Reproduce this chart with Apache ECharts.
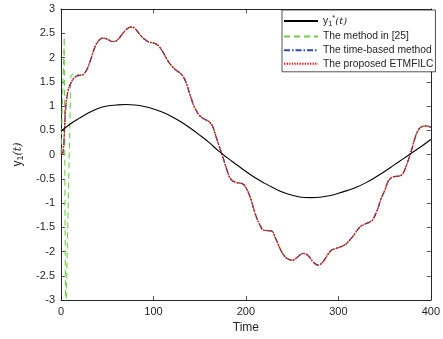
<!DOCTYPE html>
<html>
<head>
<meta charset="utf-8">
<script src="https://cdn.jsdelivr.net/npm/echarts@6/dist/echarts.min.js"></script>
<style>html,body{margin:0;padding:0;background:#fff}#c{width:443px;height:339px}</style>
</head>
<body>
<div id="c"></div>
<script>
// ---- data ----
var tRef = [0,10,20,30,40,50,60,70,80,90,100,110,120,130,140,150,160,170,180,190,200,210,220,230,240,250,260,270,280,290,300,310,320,330,340,350,360,370,380,390,400];
var yRef = [0.48,0.63,0.75,0.86,0.95,1.00,1.02,1.03,1.02,0.99,0.94,0.87,0.78,0.67,0.54,0.40,0.25,0.08,-0.07,-0.21,-0.35,-0.48,-0.59,-0.69,-0.78,-0.84,-0.88,-0.89,-0.88,-0.85,-0.80,-0.74,-0.67,-0.58,-0.47,-0.35,-0.22,-0.09,0.04,0.17,0.31];

var tTrack = [0,2,4,5,7,9,12,16,20,24,28,32,36,40,45,50,55,58,62,67,72,76,80,85,90,95,100,105,110,115,120,125,130,135,140,145,150,155,160,164,168,172,175,180,184,190,196,200,205,210,215,219,224,228,232,236,240,245,250,255,260,263,268,273,278,283,288,292,297,303,308,313,318,323,328,333,337,342,346,350,354,358,363,367,371,375,379,383,387,391,395,400];
var yProposed = [0.00,0.02,0.60,0.95,1.25,1.40,1.52,1.61,1.63,1.65,1.75,1.95,2.18,2.33,2.40,2.38,2.33,2.33,2.38,2.50,2.60,2.63,2.60,2.48,2.38,2.32,2.30,2.25,2.12,1.95,1.82,1.73,1.66,1.50,1.20,0.95,0.80,0.73,0.68,0.58,0.35,0.12,-0.05,-0.35,-0.52,-0.58,-0.60,-0.68,-0.90,-1.22,-1.45,-1.56,-1.57,-1.58,-1.72,-1.90,-2.05,-2.15,-2.18,-2.13,-2.05,-2.04,-2.10,-2.22,-2.28,-2.22,-2.08,-1.98,-1.94,-1.90,-1.85,-1.75,-1.63,-1.50,-1.44,-1.40,-1.35,-1.15,-0.92,-0.75,-0.55,-0.47,-0.45,-0.44,-0.35,-0.15,0.08,0.35,0.52,0.58,0.59,0.56];
var yTimeBased = [0.00,0.02,0.60,0.95,1.25,1.40,1.52,1.61,1.63,1.65,1.75,1.95,2.18,2.33,2.40,2.38,2.33,2.33,2.38,2.50,2.60,2.63,2.60,2.48,2.38,2.32,2.30,2.25,2.12,1.95,1.82,1.73,1.66,1.50,1.20,0.95,0.80,0.73,0.68,0.58,0.35,0.12,-0.05,-0.35,-0.52,-0.58,-0.60,-0.68,-0.90,-1.22,-1.45,-1.56,-1.57,-1.58,-1.72,-1.90,-2.05,-2.15,-2.18,-2.13,-2.05,-2.04,-2.10,-2.22,-2.28,-2.22,-2.08,-1.98,-1.94,-1.90,-1.85,-1.75,-1.63,-1.50,-1.44,-1.40,-1.35,-1.15,-0.92,-0.75,-0.55,-0.47,-0.45,-0.44,-0.35,-0.15,0.08,0.35,0.52,0.58,0.59,0.56];

// early transient of the method in [25]; afterwards it coincides with the tracking curve
var tMethod25Early = [0,3.5,5,6.3,10.7,12,16];
var yMethod25Early = [0.00,2.42,-3.6,-3.6,1.63,1.62,1.68];

var xTicks = [0,100,200,300,400];
var yTicks = [-3,-2.5,-2,-1.5,-1,-0.5,0,0.5,1,1.5,2,2.5,3];

function pairs(t, y){ return t.map(function(v,i){ return [v, y[i]]; }); }
var method25 = pairs(tMethod25Early, yMethod25Early).concat(
  pairs(tTrack, yTimeBased).filter(function(p){ return p[0] >= 20; })
);

var axisCol = '#262626';
var txtCol = '#262626';
var font = 'Liberation Sans, Arial, Helvetica, sans-serif';

var chart = echarts.init(document.getElementById('c'), null, {renderer:'canvas'});
var tickCommon = {show:true, inside:true, length:4, lineStyle:{color:axisCol, width:0.8}};
chart.setOption({
  animation:false,
  backgroundColor:'#fff',
  grid:{left:61, right:10, top:9, bottom:37, show:false},
  legend:{
    orient:'vertical', left:282, top:10,
    backgroundColor:'#fff', borderColor:axisCol, borderWidth:0.8, borderRadius:0,
    padding:[4,2,3,1],
    itemWidth:34, itemHeight:10, itemGap:3.6,
    itemStyle:{opacity:0},
    textStyle:{fontFamily:font, fontSize:10.3, color:txtCol,
      rich:{
        i:{fontFamily:'DejaVu Serif, serif', fontStyle:'italic', fontSize:10, color:txtCol},
        s:{fontFamily:font, fontSize:10.3, color:txtCol},
        sub:{fontFamily:font, fontSize:7.5, color:txtCol, verticalAlign:'bottom', padding:[6,0,0,0]},
        sup:{fontFamily:font, fontSize:7.5, color:txtCol, verticalAlign:'top', padding:[0,0,5,0]}
      }},
    formatter:function(n){
      if(n==='yref') return '{s|y}{sub|1}{sup|*}{i|(t)}';
      return n;
    },
    data:['yref','The method in [25]','The time-based method','The proposed ETMFILC']
  },
  xAxis:[{
    type:'value', min:0, max:400, interval:100, position:'bottom',
    name:'Time', nameLocation:'middle', nameGap:22,
    nameTextStyle:{fontFamily:font, fontSize:12, color:txtCol},
    axisLine:{show:true, onZero:false, lineStyle:{color:axisCol, width:1}},
    axisTick:tickCommon,
    axisLabel:{fontFamily:font, fontSize:11, color:txtCol, margin:6},
    splitLine:{show:false}
  },{
    type:'value', min:0, max:400, interval:100, position:'top',
    axisLine:{show:true, onZero:false, lineStyle:{color:axisCol, width:1}},
    axisTick:tickCommon, axisLabel:{show:false}, splitLine:{show:false}
  }],
  yAxis:[{
    type:'value', min:-3, max:3, interval:0.5, position:'left',
    name:'{s|y}{sub|1}{i|(t)}', nameLocation:'middle', nameGap:25, nameRotate:90,
    nameTextStyle:{fontFamily:font, fontSize:12, color:txtCol,
      rich:{
        s:{fontFamily:font, fontSize:12, color:txtCol},
        i:{fontFamily:'DejaVu Serif, serif', fontStyle:'italic', fontSize:11, color:txtCol},
        sub:{fontFamily:font, fontSize:9, color:txtCol, verticalAlign:'bottom', padding:[6,0,0,0]}
      }},
    axisLine:{show:true, onZero:false, lineStyle:{color:axisCol, width:1}},
    axisTick:tickCommon,
    axisLabel:{fontFamily:font, fontSize:11, color:txtCol, margin:6,
      formatter:function(v){ return String(v); }},
    splitLine:{show:false}
  },{
    type:'value', min:-3, max:3, interval:0.5, position:'right',
    axisLine:{show:true, onZero:false, lineStyle:{color:axisCol, width:1}},
    axisTick:tickCommon, axisLabel:{show:false}, splitLine:{show:false}
  }],
  series:[
    {name:'yref', type:'line', data:pairs(tRef,yRef), smooth:0.4, symbol:'none', z:5,
     lineStyle:{color:'#000', width:1.1, type:'solid'}, itemStyle:{color:'#000'}},
    {name:'The method in [25]', type:'line', data:method25, smooth:false, symbol:'none', z:2, clip:true,
     lineStyle:{color:'#72cc48', width:1.1, type:[6,4]}, itemStyle:{color:'#72cc48'}},
    {name:'The time-based method', type:'line', data:pairs(tTrack,yTimeBased), smooth:0.4, symbol:'none', z:3,
     lineStyle:{color:'#2a4bb0', width:1.2, type:[6,2,1.5,2]}, itemStyle:{color:'#2a4bb0'}},
    {name:'The proposed ETMFILC', type:'line', data:pairs(tTrack,yProposed), smooth:0.4, symbol:'none', z:4,
     lineStyle:{color:'#ff0000', width:1.4, type:[1.3,1.3]}, itemStyle:{color:'#ff0000'}}
  ]
});
</script>
</body>
</html>
